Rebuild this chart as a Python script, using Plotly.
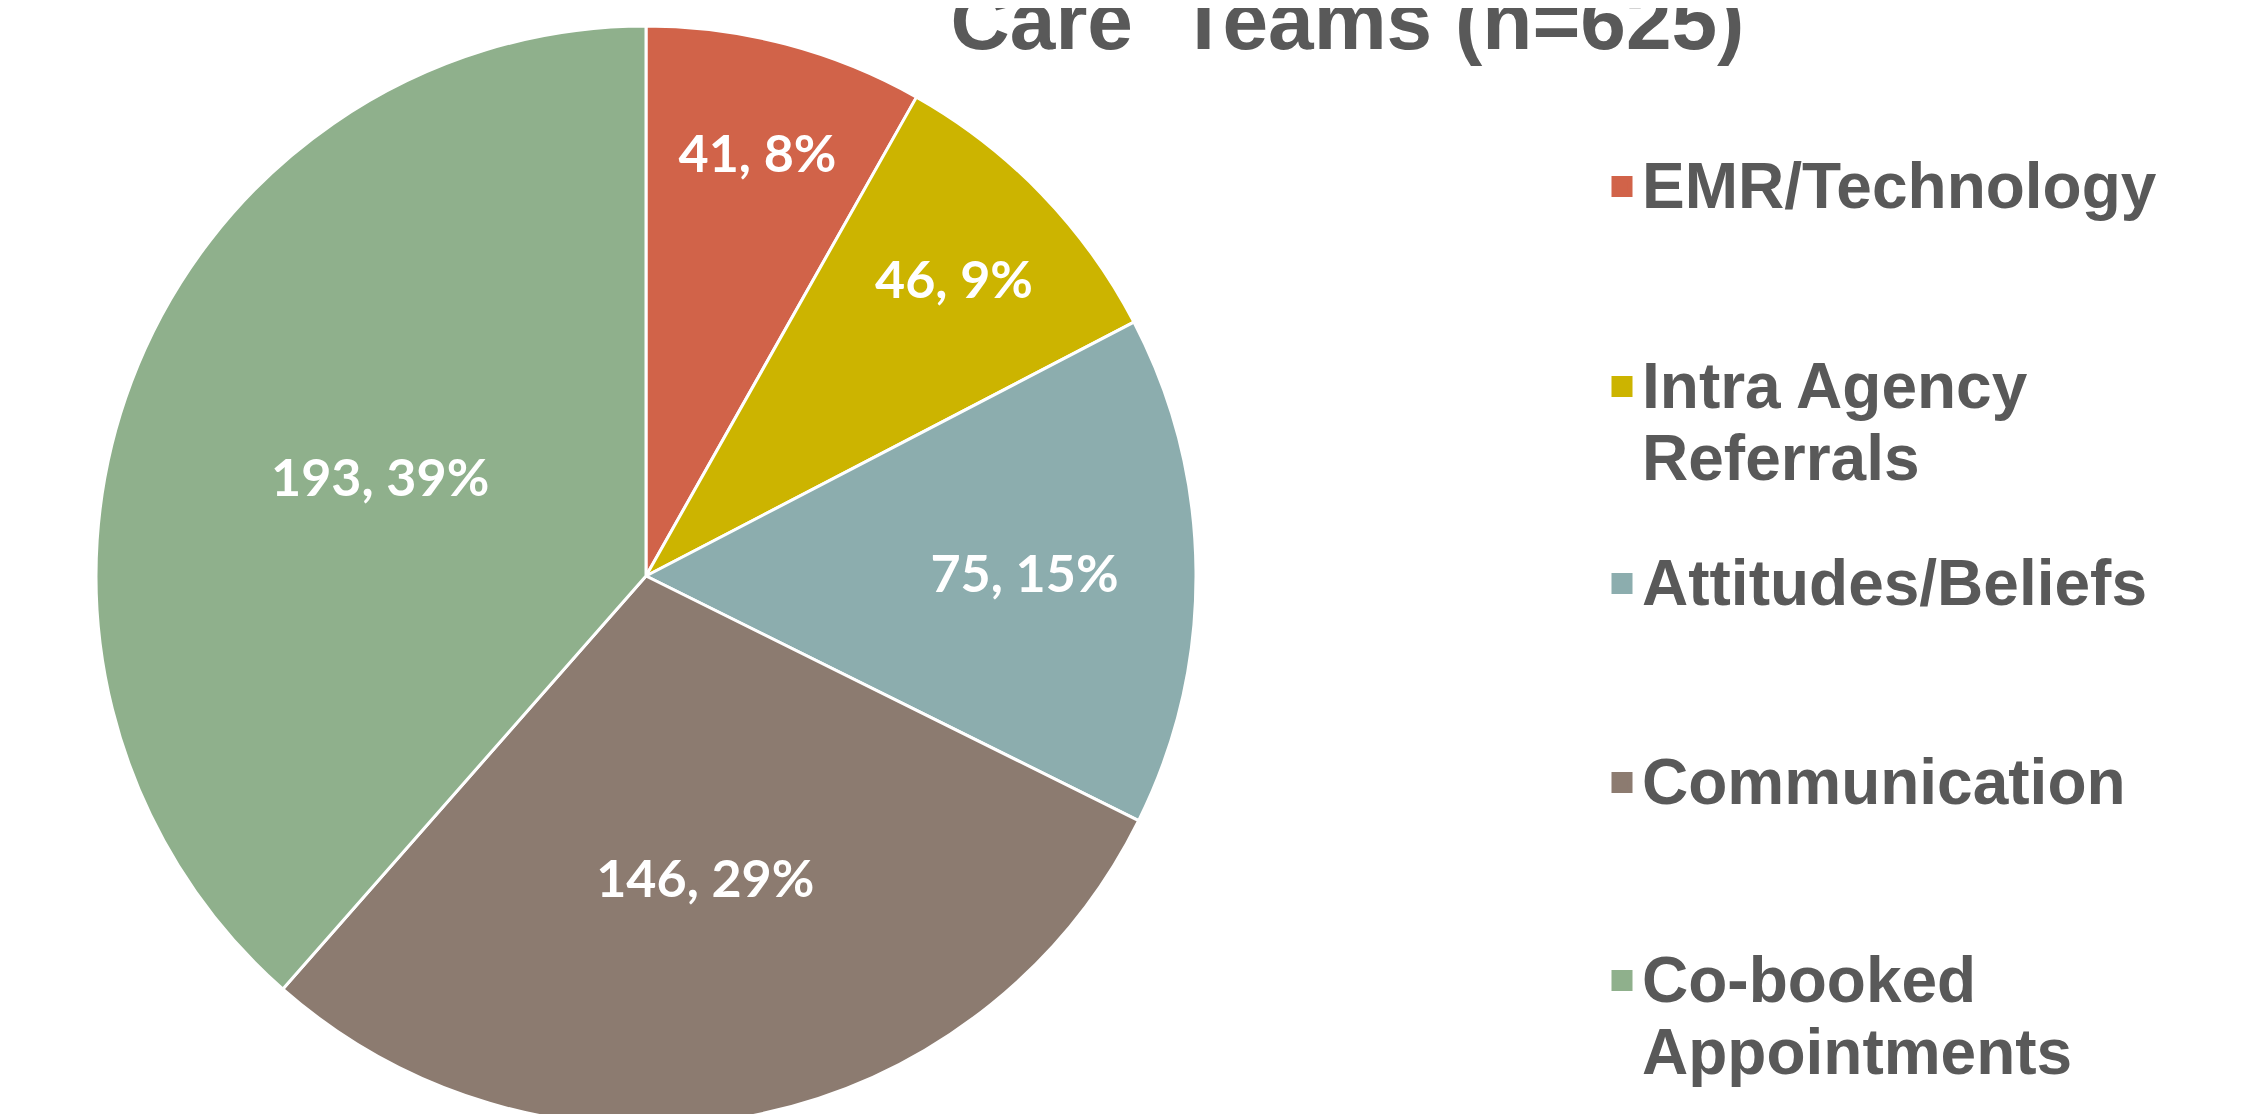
import plotly.graph_objects as go

# ---- data ----
labels = ["EMR/Technology", "Intra Agency Referrals", "Attitudes/Beliefs",
          "Communication", "Co-booked Appointments"]
legend_lines = [["EMR/Technology"], ["Intra Agency", "Referrals"], ["Attitudes/Beliefs"],
                ["Communication"], ["Co-booked", "Appointments"]]
values = [41, 46, 75, 146, 193]
colors = ["#D16349", "#CCB400", "#8CADAE", "#8C7B70", "#8FB08C"]
title_text = "Care\u00a0\u00a0Teams (n=625)"

# ---- layout constants (figure pixels) ----
W, H = 2241, 1118
TEXT_GRAY = "#595959"
legend_tops_px = [136, 336, 533, 732, 930]
legend_left_px = 1594
legend_glyph_px = 64      # visible glyph size
legend_line_font = 55.4   # sets line spacing (1.3 x) to match reference
pie_cx, pie_r = 638, 550

fig = go.Figure()

fig.add_trace(go.Pie(
    labels=labels,
    values=values,
    sort=False,
    direction="clockwise",
    rotation=0,
    marker=dict(colors=colors, line=dict(color="white", width=3)),
    texttemplate="%{value}, %{percent:.0%}",
    textposition="inside",
    insidetextorientation="horizontal",
    textfont=dict(family="Lato", size=52, color="white", weight="bold"),
    showlegend=False,
    domain=dict(x=[(pie_cx - pie_r) / W, (pie_cx + pie_r) / W],
                y=[0, 2 * pie_r / H]),
))

legend_names = ["legend"] + [f"legend{i}" for i in range(2, len(labels) + 1)]
for lines, col, lname in zip(legend_lines, colors, legend_names):
    name = "<br>".join(f'<span style="font-size:{legend_glyph_px}px">{ln}</span>' for ln in lines)
    fig.add_trace(go.Scatter(
        x=[None], y=[None], mode="markers", name=name,
        marker=dict(symbol="square", size=16, color=col, line=dict(color=col, width=5)),
        legend=lname, showlegend=True, hoverinfo="skip",
    ))

layout_legends = {}
for lname, top in zip(legend_names, legend_tops_px):
    layout_legends[lname] = dict(
        x=legend_left_px / W, xanchor="left",
        y=1 - top / H, yanchor="top",
        font=dict(family="Liberation Sans, Arial", size=legend_line_font, color=TEXT_GRAY, weight="bold"),
        valign="top", bgcolor="rgba(0,0,0,0)", borderwidth=0,
    )

fig.update_layout(
    width=W, height=H,
    margin=dict(l=0, r=0, t=0, b=0),
    paper_bgcolor="white", plot_bgcolor="white",
    title=dict(text=title_text, x=1339.5 / W, xanchor="center", xref="container",
               y=1 - 41 / H, yanchor="bottom", yref="container",
               font=dict(family="Liberation Sans, Arial", size=82, color=TEXT_GRAY, weight="bold")),
    xaxis=dict(visible=False),
    yaxis=dict(visible=False),
    **layout_legends,
)

fig.write_html("out.html")
